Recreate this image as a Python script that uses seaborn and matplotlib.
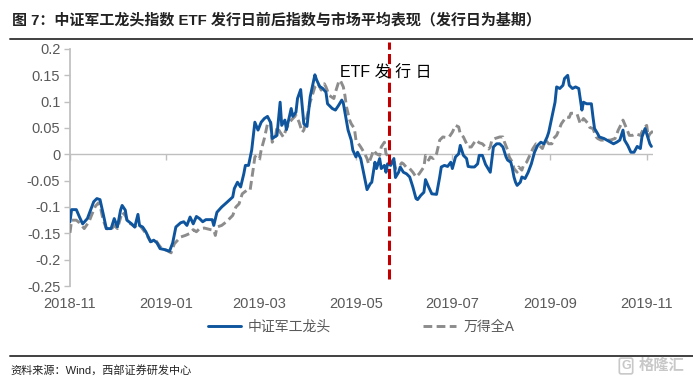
import numpy as np
import pandas as pd
import matplotlib
matplotlib.use("Agg")
import matplotlib.pyplot as plt
import matplotlib.dates as mdates
from matplotlib.ticker import FuncFormatter
import seaborn as sns

sns.set_theme(style="white")
plt.rcParams["font.family"] = ["Liberation Sans", "Noto Sans CJK SC", "DejaVu Sans"]
plt.rcParams["axes.unicode_minus"] = False

# ── data (days counted from 2018-11-01) ───────────────────────────────────────
START = pd.Timestamp("2018-11-01")
ISSUE_DAY = 202   # 2019-05-22, ETF 发行日

blue_day = [0, 1, 4, 6, 8, 11, 13, 15, 17, 19, 21, 23, 26, 28, 30, 32, 33, 35, 36, 39,
            41, 43, 44, 46, 48, 51, 53, 55, 57, 60, 63, 65, 67, 70, 72, 74, 76, 78, 80, 82,
            84, 86, 90, 91, 93, 96, 99, 103, 104, 106, 108, 110, 111, 113, 115, 117, 119, 121, 123, 125,
            127, 128, 131, 133, 134, 136, 137, 140, 141, 143, 144, 146, 147, 148, 150, 152, 155, 156, 158, 160,
            162, 163, 166, 168, 170, 172, 173, 174, 175, 176, 178, 179, 181, 182, 184, 186, 188, 190, 191, 193,
            194, 196, 197, 199, 200, 201, 203, 205, 206, 208, 209, 211, 213, 215, 217, 219, 220, 222, 224, 225,
            227, 229, 232, 234, 235, 237, 239, 241, 242, 244, 246, 247, 249, 251, 252, 254, 256, 258, 259, 261,
            263, 266, 268, 270, 272, 274, 276, 277, 279, 280, 281, 282, 283, 285, 286, 288, 290, 292, 294, 296,
            298, 300, 302, 303, 305, 307, 308, 310, 312, 313, 315, 316, 318, 320, 322, 324, 325, 327, 330, 331,
            332, 334, 335, 338, 341, 344, 346, 348, 350, 351, 353, 355, 357, 359, 361, 362, 364, 366, 367, 368]
blue_val = [-0.128, -0.105, -0.105, -0.119, -0.132, -0.122, -0.106, -0.090, -0.084, -0.086,
            -0.113, -0.141, -0.141, -0.122, -0.138, -0.106, -0.097, -0.106, -0.125, -0.132,
            -0.138, -0.114, -0.135, -0.138, -0.147, -0.166, -0.163, -0.168, -0.179, -0.181,
            -0.184, -0.168, -0.138, -0.130, -0.128, -0.135, -0.119, -0.132, -0.118, -0.122,
            -0.128, -0.124, -0.124, -0.135, -0.110, -0.100, -0.092, -0.081, -0.065, -0.053,
            -0.062, -0.037, -0.021, -0.021, 0.008, 0.061, 0.046, 0.061, 0.068, 0.072,
            0.060, 0.030, 0.036, 0.099, 0.055, 0.065, 0.047, 0.087, 0.072, 0.080,
            0.106, 0.123, 0.090, 0.058, 0.053, 0.109, 0.151, 0.142, 0.129, 0.125,
            0.118, 0.096, 0.087, 0.084, 0.093, 0.103, 0.097, 0.080, 0.062, 0.046,
            0.027, 0.008, -0.005, 0.004, -0.008, -0.037, -0.067, -0.056, -0.053, -0.015,
            -0.027, -0.008, -0.027, -0.021, -0.034, -0.018, -0.021, -0.008, -0.044, -0.034,
            -0.024, -0.034, -0.037, -0.043, -0.062, -0.084, -0.086, -0.078, -0.072, -0.048,
            -0.062, -0.075, -0.076, -0.043, -0.024, -0.021, -0.023, -0.015, -0.027, -0.005,
            0.001, 0.017, -0.002, -0.008, -0.023, -0.024, -0.024, -0.018, -0.002, -0.002,
            -0.019, -0.034, 0.014, 0.020, 0.020, 0.014, -0.005, -0.011, -0.015, -0.027,
            -0.043, -0.053, -0.059, -0.053, -0.043, -0.046, -0.034, -0.018, 0.004, 0.017,
            0.023, 0.020, 0.033, 0.042, 0.071, 0.099, 0.128, 0.125, 0.131, 0.144,
            0.150, 0.131, 0.125, 0.128, 0.125, 0.084, 0.099, 0.096, 0.096, 0.071,
            0.049, 0.039, 0.033, 0.030, 0.025, 0.020, 0.023, 0.027, 0.046, 0.027,
            0.017, 0.004, 0.004, 0.015, 0.011, 0.033, 0.049, 0.030, 0.020, 0.015]

gray_day = [0, 1, 4, 6, 9, 12, 14, 16, 18, 19, 21, 23, 26, 28, 30, 33, 35, 37, 39, 41,
            43, 45, 48, 51, 54, 56, 58, 61, 64, 66, 70, 73, 76, 78, 80, 82, 85, 89, 91, 92,
            93, 96, 99, 103, 105, 107, 109, 112, 114, 116, 117, 118, 120, 121, 123, 125, 127, 128, 130, 131,
            133, 135, 137, 139, 141, 143, 145, 147, 148, 150, 152, 155, 157, 159, 161, 162, 164, 167, 168, 170,
            171, 173, 174, 175, 177, 178, 180, 181, 184, 186, 188, 189, 191, 192, 194, 196, 197, 199, 200, 201,
            203, 205, 206, 208, 210, 211, 213, 215, 217, 219, 221, 224, 225, 227, 228, 230, 232, 234, 236, 238,
            240, 242, 244, 246, 247, 249, 251, 252, 254, 256, 257, 259, 261, 263, 265, 266, 267, 269, 272, 274,
            275, 277, 278, 280, 281, 283, 284, 286, 287, 289, 291, 293, 295, 297, 299, 301, 303, 305, 306, 308,
            311, 314, 316, 317, 319, 321, 323, 325, 326, 328, 329, 331, 333, 334, 336, 338, 342, 345, 347, 349,
            350, 352, 354, 356, 358, 361, 363, 365, 366, 367, 369]
gray_val = [-0.149, -0.125, -0.125, -0.130, -0.141, -0.128, -0.113, -0.099, -0.092, -0.097,
            -0.125, -0.141, -0.143, -0.135, -0.141, -0.110, -0.116, -0.130, -0.133, -0.138,
            -0.132, -0.138, -0.150, -0.166, -0.162, -0.171, -0.179, -0.182, -0.187, -0.170,
            -0.157, -0.154, -0.150, -0.143, -0.147, -0.141, -0.140, -0.143, -0.144, -0.154,
            -0.138, -0.135, -0.128, -0.116, -0.100, -0.094, -0.075, -0.068, -0.068, -0.027,
            -0.005, -0.002, -0.008, 0.008, 0.030, 0.058, 0.061, 0.023, 0.033, 0.052,
            0.042, 0.033, 0.049, 0.061, 0.068, 0.074, 0.061, 0.042, 0.046, 0.071,
            0.099, 0.128, 0.134, 0.122, 0.134, 0.128, 0.112, 0.106, 0.118, 0.137,
            0.141, 0.128, 0.112, 0.090, 0.065, 0.058, 0.049, 0.027, 0.014, 0.004,
            -0.008, -0.018, -0.002, 0.008, 0.001, -0.002, 0.014, 0.023, 0.001, -0.002,
            -0.018, -0.008, -0.027, -0.024, -0.016, -0.018, -0.025, -0.027, -0.034, -0.043,
            -0.037, -0.024, -0.002, -0.011, -0.005, -0.008, 0.001, 0.027, 0.033, 0.032,
            0.033, 0.042, 0.055, 0.052, 0.039, 0.033, 0.020, 0.014, 0.014, 0.023,
            0.027, 0.022, 0.020, 0.014, 0.010, 0.014, 0.027, 0.030, 0.033, 0.033,
            0.023, 0.008, -0.005, -0.015, -0.027, -0.034, -0.024, -0.030, -0.021, -0.015,
            -0.002, 0.011, 0.020, 0.017, 0.011, 0.027, 0.020, 0.020, 0.030, 0.036,
            0.058, 0.071, 0.070, 0.078, 0.078, 0.076, 0.058, 0.068, 0.065, 0.058,
            0.051, 0.049, 0.033, 0.030, 0.027, 0.027, 0.027, 0.030, 0.046, 0.058,
            0.065, 0.051, 0.036, 0.036, 0.039, 0.036, 0.049, 0.055, 0.033, 0.039, 0.044]

y_ticks = [0.2, 0.15, 0.1, 0.05, 0, -0.05, -0.1, -0.15, -0.2, -0.25]
x_ticks = ["2018-11-01", "2019-01-01", "2019-03-01", "2019-05-01",
           "2019-07-01", "2019-09-01", "2019-11-01"]

blue_df = pd.DataFrame({"date": START + pd.to_timedelta(blue_day, unit="D"), "v": blue_val})
gray_df = pd.DataFrame({"date": START + pd.to_timedelta(gray_day, unit="D"), "v": gray_val})
issue_date = START + pd.Timedelta(days=ISSUE_DAY)

BLUE = "#0E559E"
GRAY = "#8C8C8C"
AXIS = "#BFBFBF"
TXT = "#595959"

# ── figure ────────────────────────────────────────────────────────────────────
fig = plt.figure(figsize=(6.93, 3.80), dpi=100)
ax = fig.add_axes([70 / 693, 1 - 286 / 380, 583 / 693, 237 / 380])

ax.axhline(0, color=AXIS, lw=1.0, zorder=1)
sns.lineplot(data=gray_df, x="date", y="v", ax=ax, color=GRAY, lw=2.1,
             linestyle=(0, (3, 1.5)), estimator=None, label="万得全A", zorder=3)
sns.lineplot(data=blue_df, x="date", y="v", ax=ax, color=BLUE, lw=2.1,
             estimator=None, label="中证军工龙头", zorder=4)

ax.vlines(issue_date, -0.236, 0.213, colors="#C00000", lw=2.2,
          linestyles=(0, (3.3, 1.4)), clip_on=False, zorder=5)
ax.text(START + pd.Timedelta(days=171), 0.154, "ETF 发 行 日", fontsize=11.5,
        color="black", ha="left", va="center", zorder=6)

ax.set_xlim(START, START + pd.Timedelta(days=369))
ax.set_ylim(-0.25, 0.2)
ax.set_yticks(y_ticks)
ax.yaxis.set_major_formatter(FuncFormatter(lambda v, p: f"{v:g}"))
ax.set_xticks(pd.to_datetime(x_ticks))
ax.xaxis.set_major_formatter(mdates.DateFormatter("%Y-%m"))
ax.set_xlabel("")
ax.set_ylabel("")

for s in ["top", "right", "bottom"]:
    ax.spines[s].set_visible(False)
ax.spines["left"].set_color(AXIS)
ax.tick_params(axis="y", left=True, length=4, width=1, color=AXIS,
               labelsize=10.5, labelcolor=TXT, pad=3)
ax.tick_params(axis="x", bottom=True, length=0, labelsize=10.5, labelcolor=TXT, pad=8)

# zero line ticks
sec = ax.secondary_xaxis(0, transform=ax.transData)
sec.set_xticks(pd.to_datetime(x_ticks))
sec.tick_params(axis="x", length=4, width=1, color=AXIS, direction="out",
                labelbottom=False, labeltop=False)
for s in sec.spines.values():
    s.set_visible(False)

ax.get_legend().remove()
handles, labels = ax.get_legend_handles_labels()
order = [labels.index("中证军工龙头"), labels.index("万得全A")]
fig.legend([handles[i] for i in order], [labels[i] for i in order],
           loc="center", bbox_to_anchor=(361 / 693, 1 - 327 / 380), ncol=2,
           frameon=False, fontsize=10, labelcolor=TXT, handlelength=2.4,
           handletextpad=0.5, columnspacing=6.6)

# title, rules, source
fig.text(12 / 693, 1 - 20 / 380,
         "图 7：中证军工龙头指数 ETF 发行日前后指数与市场平均表现（发行日为基期）",
         fontsize=10.8, fontweight="bold", color="#222222", ha="left", va="center")
fig.add_artist(plt.Line2D([10 / 693, 1], [1 - 39 / 380] * 2, color="#404040", lw=1.4))
fig.add_artist(plt.Line2D([10 / 693, 1], [1 - 356 / 380] * 2, color="#404040", lw=1.4))
fig.text(10 / 693, 1 - 370 / 380, "资料来源：Wind，西部证券研发中心",
         fontsize=8, color="#222222", ha="left", va="center")
fig.text(684 / 693, 1 - 366 / 380, "格隆汇", fontsize=11, color="#C8C8C8",
         ha="right", va="center", fontweight="bold")
fig.text(626 / 693, 1 - 366 / 380, "G", fontsize=9, color="#C8C8C8", ha="center",
         va="center", fontweight="bold",
         bbox=dict(boxstyle="round,pad=0.15", ec="#C8C8C8", fc="none", lw=1.2))

fig.savefig("out.png", dpi=100)
